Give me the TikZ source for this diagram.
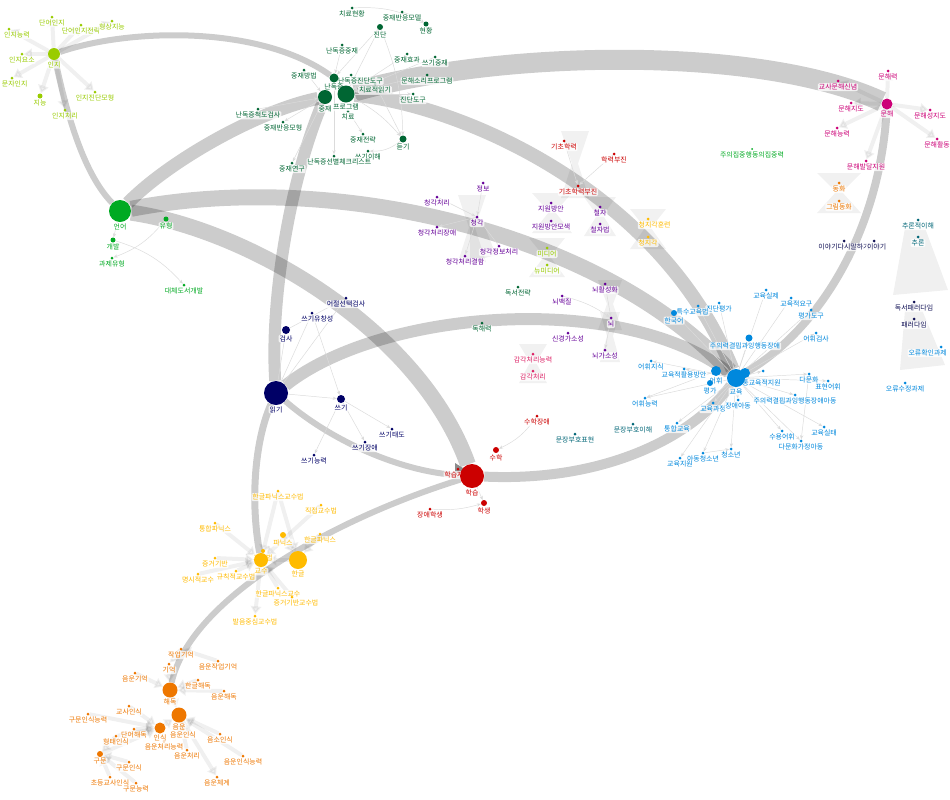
\documentclass[tikz,border=0pt]{standalone}
\usepackage{fontspec}
\newfontfamily\kr{Noto Sans CJK KR}
\usetikzlibrary{arrows.meta}
\definecolor{lg}{HTML}{99CC00}
\definecolor{dg}{HTML}{006633}
\definecolor{gr}{HTML}{00AA22}
\definecolor{mg}{HTML}{CC0077}
\definecolor{pu}{HTML}{660099}
\definecolor{rd}{HTML}{CC0000}
\definecolor{bl}{HTML}{0088DD}
\definecolor{nv}{HTML}{000066}
\definecolor{ye}{HTML}{FFBB00}
\definecolor{og}{HTML}{EE7700}
\definecolor{tl}{HTML}{006677}
\definecolor{pk}{HTML}{DD2266}
\definecolor{dn}{HTML}{111155}
\pgfdeclarelayer{bg}
\pgfsetlayers{bg,main}
\newcommand\mynode[7][0pt]{\node[dot,minimum size=#5*0.75pt,fill=#6,label={[lbl,text=#6,xshift=#1]below:#7}] (#2) at (#3,#4) {};}
\newcommand\mybow[4]{\fill[black,opacity=0.055] ({#1-#4},{#2-10}) -- ({#1+#4},{#2-10}) -- ({#1+3},{(#2+#3)/2}) -- ({#1+#4},{#3+12}) -- ({#1-#4},{#3+12}) -- ({#1-3},{(#2+#3)/2}) -- cycle;}
\begin{document}
\begin{tikzpicture}[x=0.75pt,y=-0.75pt,
  dot/.style={circle,inner sep=0pt,draw=none},
  lbl/.style={font=\kr\fontsize{5.2}{5.5}\selectfont,fill=white,fill opacity=0.75,text opacity=1,inner sep=0.7pt,rounded corners=1pt},
  band/.style={draw=black,draw opacity=0.2,line width=#1*0.75pt},
  thn/.style={draw=black!14,line width=0.35pt,-{Stealth[length=3pt,width=2.4pt]}},
  fatarr/.style={draw=black,opacity=0.06,line width=3pt,-{Triangle[length=6pt,width=8pt]}}]
\path[use as bounding box] (0,0) rectangle (950,800);
% ---------- light green: cognition
\mynode{inji}{54}{54}{12}{lg}{인지}
\mynode{danin}{52}{17}{3}{lg}{단어인지}
\mynode{daninj}{81}{25}{3}{lg}{단어인지전략}
\mynode{hyeong}{112}{21}{3}{lg}{형상지능}
\mynode[6pt]{injineung}{9}{29}{3}{lg}{인지능력}
\mynode{injiyoso}{22}{54}{3}{lg}{인지요소}
\mynode[2pt]{munja}{12}{78}{3}{lg}{문자인지}
\mynode{jineung}{40}{96}{5}{lg}{지능}
\mynode{injicheo}{65}{110}{3}{lg}{인지처리}
\mynode{injijin}{95}{92}{3}{lg}{인지진단모형}
% ---------- dark green: dyslexia intervention
\mynode{chiryohy}{352}{8}{3}{dg}{치료현황}
\mynode{jungjaeban}{402}{12}{3}{dg}{중재반응모델}
\mynode{jindan}{380}{27}{6}{dg}{진단}
\mynode{hyeonhwang}{426}{24}{5}{dg}{현황}
\mynode{nandokjj}{342}{45}{3}{dg}{난독증중재}
\mynode{jjhyogwa}{407}{54}{3}{dg}{중재효과}
\mynode{sseugijj}{435}{57}{3}{dg}{쓰기중재}
\mynode{jjbangbeop}{304}{70}{3}{dg}{중재방법}
\mynode{munhaesori}{427}{75}{3}{dg}{문해소리프로그램}
\mynode{chiryojeok}{375}{84}{3}{dg}{치료적읽기}
\mynode{jindando}{413}{94}{3}{dg}{진단도구}
\mynode{chiryo}{348}{111}{3}{dg}{치료}
\mynode{ndcheok}{258}{109}{3}{dg}{난독증척도검사}
\mynode{jjbanmo}{283}{122}{3}{dg}{중재반응모형}
\mynode{jjjeollyak}{363}{134}{3}{dg}{중재전략}
\mynode{deutgi}{403}{139}{7}{dg}{듣기}
\mynode{sseugiihae}{368}{151}{3}{dg}{쓰기이해}
\mynode[4pt]{ndseonbyeol}{334}{156}{3}{dg}{난독증선별체크리스트}
\mynode{jjyeongu}{292}{163}{3}{dg}{중재연구}
\mynode[7pt]{ndjindan}{351}{75}{3}{dg}{난독증진단도구}
\mynode{nandok}{334}{78}{9}{dg}{난독증}
\mynode{jungjae}{325}{97}{14}{dg}{중재}
\mynode{program}{346}{94}{17}{dg}{프로그램}
% ---------- magenta: literacy
\mynode{munhaeryeok}{888}{71}{3}{mg}{문해력}
\mynode{gyosamunhae}{838}{81}{3}{mg}{교사문해신념}
\mynode{munhaejido}{851}{103}{3}{mg}{문해지도}
\mynode{munhae}{887}{104}{11}{mg}{문해}
\mynode{munhaeseong}{930}{110}{3}{mg}{문해성지도}
\mynode{munhaeneung}{837}{128}{3}{mg}{문해능력}
\mynode{munhaehwal}{937}{139}{3}{mg}{문해활동}
\mynode{munhaebal}{866}{161}{3}{mg}{문해발달지원}
\mynode{donghwa}{839}{183}{3}{og}{동화}
\mynode{geurim}{839}{201}{3}{og}{그림동화}
% ---------- green: language
\mynode{eoneo}{120}{211}{22}{gr}{언어}
\mynode{yuhyeong}{166}{219}{5}{gr}{유형}
\mynode{gaebal}{113}{240}{5}{gr}{개발}
\mynode{gwaje}{112}{258}{3}{gr}{과제유형}
\mynode{daeche}{184}{285}{3}{gr}{대체도서개발}
\mynode{juuijip}{752}{149}{2}{gr}{주의집중행동의집중력}
% ---------- purple / red / misc centre
\mynode{jeongbo}{483}{183}{3}{pu}{정보}
\mynode{cheonggakcheori}{437}{197}{3}{pu}{청각처리}
\mynode{cheonggak}{477}{217}{3}{pu}{청각}
\mynode{cheonggakjang}{437}{227}{3}{pu}{청각처리장애}
\mynode{cheongjeongbo}{499}{246}{3}{pu}{청각정보처리}
\mynode{cheonggyeol}{465}{256}{3}{pu}{청각처리결함}
\mynode{jiwon}{551}{203}{3}{pu}{지원방안}
\mynode{jiwonmo}{551}{221}{3}{pu}{지원방안모색}
\mynode{cheolja}{600}{207}{3}{pu}{철자}
\mynode{cheoljabeop}{600}{224}{3}{pu}{철자법}
\mynode{noehwal}{605}{284}{3}{pu}{뇌활성화}
\mynode{noebaek}{562}{296}{3}{pu}{뇌백질}
\mynode{noe}{611}{318}{3}{pu}{뇌}
\mynode{singyeong}{568}{333}{3}{pu}{신경가소성}
\mynode{noegaso}{605}{350}{3}{pu}{뇌가소성}
\mynode{gicho}{564}{141}{3}{rd}{기초학력}
\mynode{hangnyeok}{614}{154}{3}{rd}{학력부진}
\mynode{gichobu}{578}{186}{3}{rd}{기초학력부진}
\mynode{media}{547}{248}{3}{lg}{미디어}
\mynode{newmedia}{547}{265}{3}{lg}{뉴미디어}
\mynode{dokseo}{518}{287}{3}{dg}{독서전략}
\mynode{dokhae}{482}{323}{3}{dg}{독해력}
\mynode{gamgak}{533}{354}{3}{pk}{감각처리능력}
\mynode{gamgak2}{533}{371}{3}{pk}{감각처리}
\mynode[5pt]{cheongji}{648}{219}{3}{ye}{청지각훈련}
\mynode{cheongji2}{648}{237}{3}{ye}{청지각}
% ---------- blue: education
\mynode{gyoyuksilje}{766}{290}{3}{bl}{교육실제}
\mynode[4pt]{gyoyukjeok}{791}{298}{3}{bl}{교육적요구}
\mynode{pyeonggado}{811}{310}{3}{bl}{평가도구}
\mynode{jindanpy}{719}{303}{3}{bl}{진단평가}
\mynode[-4pt]{teuksu}{698}{306}{3}{bl}{특수교육법}
\mynode{hangugeo}{674}{313}{6}{bl}{한국어}
\mynode{eohwigeomsa}{816}{333}{3}{bl}{어휘검사}
\mynode[-3pt]{adhd}{749}{338}{7}{bl}{주의력결핍과잉행동장애}
\mynode{eohwijisik}{651}{361}{3}{bl}{어휘지식}
\mynode{hwalyong}{684}{369}{3}{bl}{교육적활용방안}
\mynode{eohwi}{716}{371}{10}{bl}{어휘}
\mynode{pyeongga}{710}{383}{6}{bl}{평가}
\mynode[10pt]{gongtong}{745}{373}{10}{bl}{공통교육적지원}
\mynode{gyoyuk}{736}{378}{18}{bl}{교육}
\mynode{jiwonsmall}{763}{371}{3}{bl}{}
\mynode{damunhwa}{809}{374}{3}{bl}{다문화}
\mynode{pyohyeon}{828}{381}{3}{bl}{표현어휘}
\mynode{adhdchild}{795}{395}{3}{bl}{주의력결핍과잉행동장애아동}
\mynode{eohwineung}{645}{398}{3}{bl}{어휘능력}
\mynode{gyoyukgwa}{713}{403}{3}{bl}{교육과정}
\mynode{jangaeadong}{738}{400}{3}{bl}{장애아동}
\mynode{tonghap}{677}{423}{3}{bl}{통합교육}
\mynode{gyoyuksiltae}{824}{427}{3}{bl}{교육실태}
\mynode{suyong}{782}{431}{3}{bl}{수용어휘}
\mynode{damunhwaga}{801}{441}{3}{bl}{다문화가정아동}
\mynode{adongcheong}{703}{453}{3}{bl}{아동청소년}
\mynode{cheongsonyeon}{731}{449}{3}{bl}{청소년}
\mynode{gyoyukjiwon}{680}{458}{3}{bl}{교육지원}
\mynode{munjangihae}{633}{424}{3}{tl}{문장부호이해}
\mynode{munjangpyo}{575}{434}{3}{tl}{문장부호표현}
% ---------- right column
\mynode{iyagi}{844}{241}{3}{dn}{이야기다시말하기}
\mynode[2pt]{iyagi2}{874}{241}{3}{dn}{이야기}
\mynode{churon}{918}{220}{3}{tl}{추론적이해}
\mynode{churon2}{918}{237}{3}{tl}{추론}
\mynode{dokseopa}{914}{302}{3}{dn}{독서패러다임}
\mynode{paradigm}{914}{319}{3}{dn}{패러다임}
\mynode[-10pt]{oryuhwak}{941}{347}{3}{bl}{오류확인과제}
\mynode{oryusu}{905}{383}{3}{bl}{오류수정과제}
% ---------- navy: reading / writing
\mynode{eojeol}{346}{298}{3}{nv}{어절선택검사}
\mynode[4pt]{sseugiyu}{312}{313}{3}{nv}{쓰기유창성}
\mynode{geomsa}{286}{330}{8}{nv}{검사}
\mynode{ilgi}{276}{393}{24}{nv}{읽기}
\mynode{sseugi}{341}{399}{8}{nv}{쓰기}
\mynode{sseugitaedo}{392}{429}{3}{nv}{쓰기태도}
\mynode{sseugijang}{365}{442}{3}{nv}{쓰기장애}
\mynode{sseugineung}{314}{455}{3}{nv}{쓰기능력}
% ---------- red: learning
\mynode[-3pt]{hakseupja}{458}{469}{3}{rd}{학습자}
\mynode{hakseup}{472}{476}{24}{rd}{학습}
\mynode{suhakjang}{537}{416}{3}{rd}{수학장애}
\mynode{suhak}{496}{450}{6}{rd}{수학}
\mynode{haksaeng}{484}{503}{6}{rd}{학생}
\mynode{jangae}{430}{509}{3}{rd}{장애학생}
% ---------- yellow: phonics
\mynode{hangeulpa}{278}{491}{3}{ye}{한글파닉스교수법}
\mynode{jikjeop}{321}{505}{3}{ye}{직접교수법}
\mynode{tonghappa}{215}{523}{3}{ye}{통합파닉스}
\mynode{phonics}{283}{535}{6}{ye}{파닉스}
\mynode{hangeulpn}{320}{534}{3}{ye}{한글파닉스}
\mynode{gyosubeop}{263}{551}{4}{ye}{교수법}
\mynode{gyosu}{261}{560}{14}{ye}{교수}
\mynode{hangeul}{298}{560}{18}{ye}{한글}
\mynode{jeunggeo}{215}{558}{3}{ye}{증거기반}
\mynode{gyuchik}{236}{571}{3}{ye}{규칙적교수법}
\mynode{myeongsi}{198}{574}{3}{ye}{명시적교수}
\mynode{hangeulpagyo}{278}{588}{3}{ye}{한글파닉스교수}
\mynode[3pt]{jeunggeobeop}{292}{597}{3}{ye}{증거기반교수법}
\mynode{bareum}{255}{616}{3}{ye}{발음중심교수법}
% ---------- orange: decoding / phonology
\mynode{jageop}{181}{649}{3}{og}{작업기억}
\mynode{gieok}{169}{664}{3}{og}{기억}
\mynode{eumunjageop}{218}{661}{3}{og}{음운작업기억}
\mynode{eumungieok}{135}{673}{3}{og}{음운기억}
\mynode{hangeulhaedok}{198}{680}{3}{og}{한글해독}
\mynode{haedok}{170}{690}{15}{og}{해독}
\mynode{eumunhaedok}{224}{691}{3}{og}{음운해독}
\mynode{gyosainsik}{129}{706}{3}{og}{교사인식}
\mynode{gumuninneung}{88}{714}{3}{og}{구문인식능력}
\mynode{daneohaedok}{134}{729}{3}{og}{단어해독}
\mynode{hyeongtae}{116}{736}{3}{og}{형태인식}
\mynode{eumuninsik}{183}{729}{3}{og}{음운인식}
\mynode{eumsoinsik}{220}{734}{3}{og}{음소인식}
\mynode{eumuncheorineung}{164}{741}{3}{og}{음운처리능력}
\mynode{eumun}{179}{715}{15}{og}{음운}
\mynode{insik}{160}{728}{11}{og}{인식}
\mynode{gumun}{100}{754}{6}{og}{구문}
\mynode{eumuncheori}{187}{750}{3}{og}{음운처리}
\mynode{gumuninsik}{129}{762}{3}{og}{구문인식}
\mynode{eumuninneung}{243}{756}{3}{og}{음운인식능력}
\mynode{chodeung}{110}{777}{3}{og}{초등교사인식}
\mynode{gumunneung}{136}{783}{3}{og}{구문능력}
\mynode{eumunchegye}{217}{777}{3}{og}{음운체계}
% ================= background: bands and edges
\begin{pgfonlayer}{bg}
\fill[white] (0,0) rectangle (950,800);
\mybow{575}{141}{186}{14}
\mybow{472}{205}{250}{14}
\mybow{552}{203}{221}{20}
\mybow{600}{207}{224}{16}
\mybow{547}{248}{265}{18}
\mybow{648}{219}{237}{18}
\mybow{610}{290}{318}{12}
\mybow{610}{322}{350}{10}
\mybow{839}{183}{201}{22}
\mybow{533}{354}{371}{14}
\fill[black,opacity=0.06] (905,228) -- (925,228) -- (948,290) -- (893,295) -- cycle;
\fill[black,opacity=0.06] (905,310) -- (922,310) -- (945,365) -- (900,370) -- cycle;
\fill[black,opacity=0.06] (470,225) -- (484,225) -- (496,255) -- (470,262) -- cycle;
% thick bands between clusters
\draw[band=6] (inji) .. controls (130,28) and (260,25) .. (nandok);
\draw[band=6] (inji) .. controls (68,120) and (85,175) .. (eoneo);
\draw[band=13] (eoneo) .. controls (170,160) and (260,110) .. (jungjae);
\draw[band=16] (eoneo) .. controls (330,170) and (600,230) .. (gyoyuk);
\draw[band=16] (eoneo) .. controls (250,230) and (420,330) .. (hakseup);
\draw[band=20] (program) .. controls (500,50) and (760,45) .. (munhae);
\draw[band=14] (program) .. controls (460,105) and (660,190) .. (gyoyuk);
\draw[band=12] (jungjae) .. controls (290,180) and (270,300) .. (ilgi);
\draw[band=12] (ilgi) .. controls (380,310) and (620,290) .. (gyoyuk);
\draw[band=6] (ilgi) .. controls (330,440) and (400,472) .. (hakseup);
\draw[band=7] (ilgi) .. controls (255,440) and (250,500) .. (gyosu);
\draw[band=10] (hakseup) .. controls (600,482) and (690,440) .. (gyoyuk);
\draw[band=8] (munhae) .. controls (880,230) and (820,330) .. (gyoyuk);
\draw[band=6] (haedok) .. controls (190,600) and (330,520) .. (hakseup);
% fat translucent arrows inside clusters
\foreach \t in {danin,daninj,hyeong,injineung,injiyoso,munja,jineung,injicheo,injijin}{\draw[fatarr] (inji) -- (\t);}
\foreach \t in {munhaeryeok,gyosamunhae,munhaejido,munhaeseong,munhaeneung,munhaehwal,munhaebal}{\draw[fatarr] (munhae) -- (\t);}
\foreach \s in {hangeulpa,jikjeop,tonghappa,jeunggeo,gyuchik,myeongsi,hangeulpagyo,jeunggeobeop,hangeul,gyosubeop}{\draw[fatarr] (\s) -- (gyosu);}
\foreach \s in {phonics,hangeulpn,hangeulpa}{\draw[fatarr] (\s) -- (hangeul);}
\draw[fatarr] (gyosu) -- (bareum);
\foreach \s in {gieok,hangeulhaedok,eumunhaedok,eumungieok}{\draw[fatarr] (\s) -- (haedok);}
\draw[fatarr] (jageop) -- (gieok);
\draw[fatarr] (eumunjageop) -- (jageop);
\foreach \s in {gyosainsik,daneohaedok,hyeongtae,gumuninneung}{\draw[fatarr] (\s) -- (insik);}
\foreach \s in {eumsoinsik,eumuninneung,eumuncheori,insik}{\draw[fatarr] (\s) -- (eumun);}
\draw[fatarr] (eumun) -- (eumunchegye);
\draw[fatarr] (haedok) -- (eumun);
\foreach \s in {chodeung,gumunneung,gumuninsik,hyeongtae}{\draw[fatarr] (\s) -- (gumun);}
\draw[fatarr] (gumun) -- (insik);
% thin edges
\draw[thn] (nandokjj) -- (nandok);
\draw[thn] (jindan) -- (program);
\draw[thn] (jindan) -- (nandok);
\draw[thn] (chiryohy) to[bend left=15] (hyeonhwang);
\draw[thn] (jungjaeban) to[bend left=10] (hyeonhwang);
\draw[thn] (jjhyogwa) -- (program);
\draw[thn] (sseugijj) -- (program);
\draw[thn] (munhaesori) -- (program);
\draw[thn] (jjbangbeop) -- (jungjae);
\draw[thn] (ndcheok) -- (jungjae);
\draw[thn] (jungjae) -- (jjbanmo);
\draw[thn] (jungjae) -- (jjyeongu);
\draw[thn] (nandok) -- (ndseonbyeol);
\draw[thn] (program) -- (jindando);
\draw[thn] (chiryo) -- (jjjeollyak);
\draw[thn] (program) to[bend left=10] (deutgi);
\draw[thn] (jindan) to[bend left=10] (deutgi);
\draw[thn] (deutgi) to[bend left=20] (sseugiihae);
\draw[thn] (chiryojeok) -- (deutgi);
\draw[thn] (eoneo) -- (gaebal);
\draw[thn] (yuhyeong) to[bend left=15] (gwaje);
\draw[thn] (gaebal) to[bend left=15] (daeche);
\draw[thn] (geomsa) -- (eojeol);
\draw[thn] (ilgi) -- (geomsa);
\draw[thn] (ilgi) -- (sseugiyu);
\draw[thn] (sseugiyu) -- (sseugi);
\draw[thn] (ilgi) -- (sseugi);
\draw[thn] (ilgi) -- (eojeol);
\draw[thn] (sseugi) -- (sseugitaedo);
\draw[thn] (sseugi) -- (sseugijang);
\draw[thn] (sseugi) -- (sseugineung);
\draw[thn] (suhakjang) to[bend left=15] (suhak);
\draw[thn] (jangae) to[bend right=10] (haksaeng);
\draw[thn] (hakseup) -- (haksaeng);
\draw[thn] (gicho) -- (gichobu);
\draw[thn] (hangnyeok) -- (gichobu);
\draw[thn] (cheonggakcheori) -- (cheonggak);
\draw[thn] (jeongbo) -- (cheonggak);
\draw[thn] (cheonggak) -- (cheonggakjang);
\draw[thn] (cheonggak) -- (cheonggyeol);
\draw[thn] (cheongjeongbo) -- (cheonggak);
\draw[thn] (noebaek) to[bend left=10] (noe);
\draw[thn] (noehwal) -- (noe);
\draw[thn] (noe) -- (noegaso);
\foreach \t in {gyoyuksilje,gyoyukjeok,pyeonggado,jindanpy,teuksu,hangugeo,eohwigeomsa,adhd,eohwijisik,hwalyong,damunhwa,pyohyeon,adhdchild,eohwineung,gyoyukgwa,jangaeadong,tonghap,gyoyuksiltae,suyong,damunhwaga,adongcheong,cheongsonyeon,gyoyukjiwon,jiwonsmall}{\draw[thn] (gyoyuk) -- (\t);}
\draw[thn] (eohwi) -- (eohwineung);
\draw[thn] (damunhwa) -- (damunhwaga);
\draw[thn] (adongcheong) -- (cheongsonyeon);
\fill[black!45] (455,463) -- (466,470) -- (455,474) -- cycle;
\end{pgfonlayer}
\end{tikzpicture}
\end{document}
